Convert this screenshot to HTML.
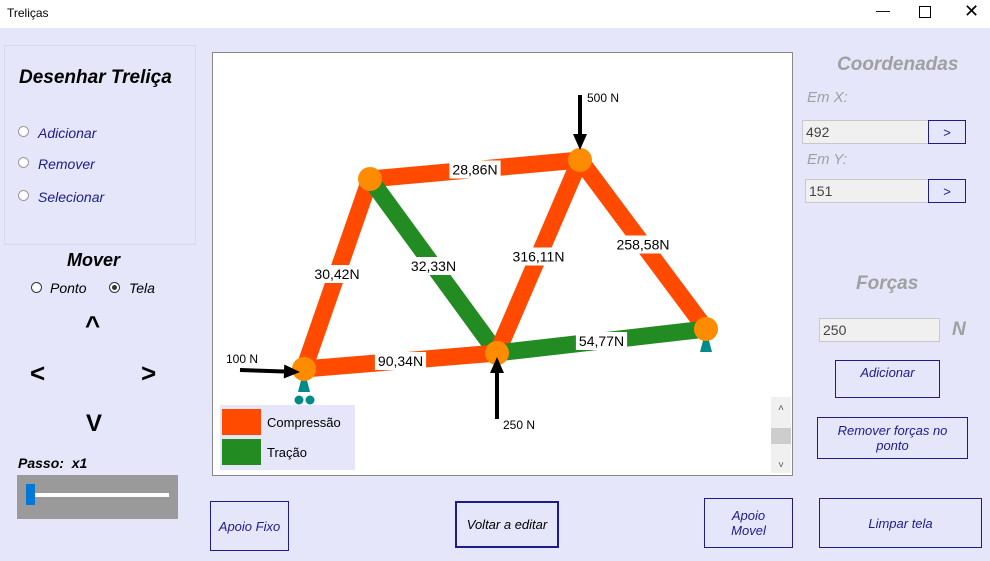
<!DOCTYPE html>
<html><head><meta charset="utf-8"><style>
body{margin:0;width:990px;height:561px;background:#e6e6fa;font-family:"Liberation Sans",sans-serif;position:relative;overflow:hidden}
.a{position:absolute}
.nav{color:#1c1c8c;font-style:italic;font-size:14px}
.btn{position:absolute;border:1px solid #1c1c8c;box-sizing:border-box;display:flex;align-items:center;justify-content:center;text-align:center;color:#1c1c8c;font-style:italic;font-size:13px;background:#e6e6fa}
.tb{position:absolute;background:#f0f0f0;border:1px solid #c8c8c8;box-sizing:border-box;font-size:14px;color:#444;padding:3px 0 0 3px}
.gray{color:#a0a0a0;font-style:italic}
.radio{position:absolute;width:11px;height:11px;border:1px solid #999;border-radius:50%;background:#fff;box-sizing:border-box}
</style></head><body>
<div class="a" style="left:0;top:0;width:990px;height:28px;background:#fff"></div>
<div class="a" style="left:7px;top:6px;font-size:12px">Treliças</div>
<div class="a" style="left:876px;top:2px;font-size:14px">—</div>
<div class="a" style="left:919px;top:6px;width:10px;height:10px;border:1px solid #000"></div>
<div class="a" style="left:964px;top:1px;font-size:18px">✕</div>

<div class="a" style="left:4px;top:45px;width:192px;height:200px;border:1px solid #d8d8e8;box-sizing:border-box"></div>
<div class="a" style="left:19px;top:67px;font-size:19px;font-weight:bold;font-style:italic">Desenhar Treliça</div>
<div class="radio" style="left:18px;top:126px"></div>
<div class="a nav" style="left:38px;top:125px">Adicionar</div>
<div class="radio" style="left:18px;top:157px"></div>
<div class="a nav" style="left:38px;top:156px">Remover</div>
<div class="radio" style="left:18px;top:190px"></div>
<div class="a nav" style="left:38px;top:189px">Selecionar</div>
<div class="a" style="left:67px;top:250px;font-size:18px;font-weight:bold;font-style:italic">Mover</div>
<div class="radio" style="left:31px;top:282px;border-color:#333"></div>
<div class="a" style="left:50px;top:280px;font-size:14px;font-style:italic">Ponto</div>
<div class="radio" style="left:109px;top:282px;border-color:#333"><div style="margin:2px;width:5px;height:5px;border-radius:50%;background:#333"></div></div>
<div class="a" style="left:129px;top:280px;font-size:14px;font-style:italic">Tela</div>
<div class="a" style="left:85px;top:310px;font-size:26px;font-weight:bold">^</div>
<div class="a" style="left:30px;top:358px;font-size:26px;font-weight:bold">&lt;</div>
<div class="a" style="left:141px;top:358px;font-size:26px;font-weight:bold">&gt;</div>
<div class="a" style="left:86px;top:410px;font-size:24px;font-weight:bold">V</div>
<div class="a" style="left:18px;top:455px;font-size:14px;font-weight:bold;font-style:italic">Passo:&nbsp; x1</div>
<div class="a" style="left:17px;top:475px;width:161px;height:44px;background:#9a9a9a">
<div class="a" style="left:9px;top:18px;width:143px;height:4px;background:#fff"></div>
<div class="a" style="left:9px;top:9px;width:9px;height:21px;background:#0078d7"></div>
</div>

<svg class="a" style="left:212px;top:52px" width="581" height="424" id="cv"></svg>

<div class="btn" style="left:210px;top:501px;width:79px;height:50px">Apoio Fixo</div>
<div class="btn" style="left:455px;top:501px;width:104px;height:47px;border-width:2px;color:#000">Voltar a editar</div>
<div class="btn" style="left:704px;top:498px;width:89px;height:50px">Apoio<br>Movel</div>
<div class="btn" style="left:819px;top:498px;width:163px;height:50px">Limpar tela</div>

<div class="a gray" style="left:837px;top:54px;font-size:19px;font-weight:bold">Coordenadas</div>
<div class="a gray" style="left:807px;top:89px;font-size:15px">Em X:</div>
<div class="tb" style="left:802px;top:120px;width:127px;height:24px">492</div>
<div class="btn" style="left:928px;top:120px;width:38px;height:24px;font-style:normal">&gt;</div>
<div class="a gray" style="left:807px;top:151px;font-size:15px">Em Y:</div>
<div class="tb" style="left:805px;top:179px;width:124px;height:24px">151</div>
<div class="btn" style="left:928px;top:179px;width:38px;height:24px;font-style:normal">&gt;</div>
<div class="a gray" style="left:856px;top:273px;font-size:19px;font-weight:bold">Forças</div>
<div class="tb" style="left:819px;top:318px;width:121px;height:24px">250</div>
<div class="a gray" style="left:952px;top:319px;font-size:19px;font-weight:bold">N</div>
<div class="btn" style="left:835px;top:360px;width:105px;height:38px;align-items:flex-start;padding-top:4px">Adicionar</div>
<div class="btn" style="left:817px;top:417px;width:151px;height:42px">Remover forças no<br>ponto</div>

<script>
const nodeX=[92,158,368,285,494];
const nodeY=[317,127,108,301,277];
const memberFrom=[0,1,1,2,2,0,3];
const memberTo=[1,2,3,3,4,3,4];
const memberForce=["30,42N","28,86N","32,33N","316,11N","258,58N","90,34N","54,77N"];
const memberType=["C","C","T","C","C","C","T"];
const forceNode=[2,0,3];
const forceLabel=["500 N","100 N","250 N"];
const forceDir=["down","right","up"];
const supportNode=[0,4];
const supportType=["roller","fixed"];
const NS="http://www.w3.org/2000/svg";
const cv=document.getElementById('cv');
function mk(t,at){const e=document.createElementNS(NS,t);for(const k in at)e.setAttribute(k,at[k]);cv.appendChild(e);return e;}
const bg=mk('rect',{x:0,y:0,width:581,height:424,fill:'#fff',stroke:'#888','stroke-width':2});


const col={C:'#ff4a00',T:'#228b22'};
memberFrom.forEach((f,i)=>{
  const t=memberTo[i];
  const l=mk('line',{x1:nodeX[f],y1:nodeY[f],x2:nodeX[t],y2:nodeY[t],stroke:col[memberType[i]],'stroke-width':17});
  
  
});
memberFrom.forEach((f,i)=>{
  const t=memberTo[i];
  const cx=(nodeX[f]+nodeX[t])/2, cy=(nodeY[f]+nodeY[t])/2;
  const w=memberForce[i].length*8.2+2;
  mk('rect',{x:cx-w/2,y:cy-9,width:w,height:18,fill:'#fff'});
  const tx=mk('text',{x:cx,y:cy+5,'text-anchor':'middle','font-size':14,fill:'#000','font-family':'Liberation Sans'});
  tx.textContent=memberForce[i];
  
  
});
supportNode.forEach((n,i)=>{
  const x=nodeX[n],y=nodeY[n];
  const p=mk('polygon',{points:`${x},${y} ${x-6},${y+23} ${x+6},${y+23}`,fill:'#008b8b'});
  
  
  if(supportType[i]=='roller'){mk('circle',{cx:x-5,cy:y+31,r:4.5,fill:'#008b8b'});mk('circle',{cx:x+6,cy:y+31,r:4.5,fill:'#008b8b'});}
});
nodeX.forEach((x,i)=>{
  const c=mk('circle',{cx:x,cy:nodeY[i],r:12,fill:'#ff8c00'});
  
  
});
forceNode.forEach((n,i)=>{
  const x=nodeX[n],y=nodeY[n];let x1,y1,x2,y2,lx,ly;
  if(forceDir[i]=='down'){x1=x;y1=y-65;x2=x;y2=y-10;lx=x+7;ly=y-58;}
  else if(forceDir[i]=='right'){x1=x-64;y1=y+1;x2=x-4;y2=y+3;lx=x-78;ly=y-6;}
  else {x1=x;y1=y+66;x2=x;y2=y+4;lx=x+6;ly=y+76;}
  const dx=x2-x1,dy=y2-y1,L=Math.hypot(dx,dy),ux=dx/L,uy=dy/L;
  const bx=x2-ux*16,by=y2-uy*16;
  const ln=mk('line',{x1,y1,x2:bx,y2:by,stroke:'#000','stroke-width':4});
  
  
  mk('polygon',{points:`${x2},${y2} ${bx-uy*7},${by+ux*7} ${bx+uy*7},${by-ux*7}`,fill:'#000'});
  const t=mk('text',{x:lx,y:ly,'font-size':12,fill:'#000','font-family':'Liberation Sans'});
  t.textContent=forceLabel[i];
  
  
});
const lg=mk('rect',{x:8,y:353,width:135,height:65,fill:'#e6e6fa'});


mk('rect',{x:10,y:357,width:39,height:26,fill:'#ff4a00'});
mk('rect',{x:10,y:387,width:39,height:26,fill:'#228b22'});
const l1=mk('text',{x:55,y:375,'font-size':13,'font-family':'Liberation Sans'});l1.textContent='Compressão';


const l2=mk('text',{x:55,y:405,'font-size':13,'font-family':'Liberation Sans'});l2.textContent='Tração';


const sb=mk('rect',{x:559,y:345,width:20,height:76,fill:'#f0f0f0'});


mk('rect',{x:559,y:376,width:20,height:16,fill:'#cdcdcd'});
const s1=mk('text',{x:569,y:359,'font-size':10,'text-anchor':'middle',fill:'#555'});s1.textContent='˄';
const s2=mk('text',{x:569,y:416,'font-size':10,'text-anchor':'middle',fill:'#555'});s2.textContent='˅';
</script>
</body></html>
